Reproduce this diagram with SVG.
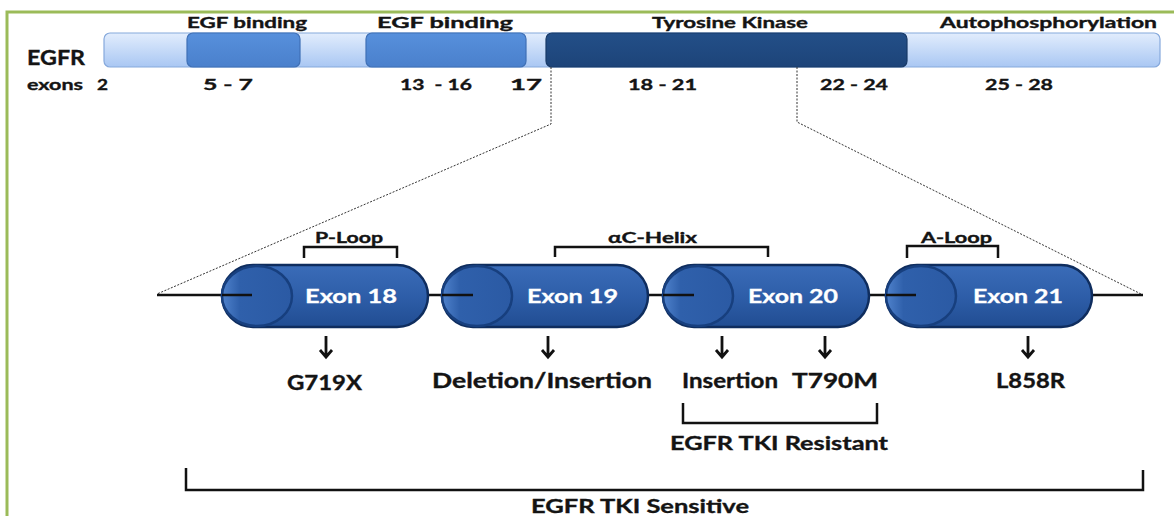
<svg xmlns="http://www.w3.org/2000/svg" width="1174" height="516" viewBox="0 0 1174 516">
  <defs>
    <linearGradient id="barFill" x1="0" y1="0" x2="0" y2="1">
      <stop offset="0" stop-color="#e2edfd"/>
      <stop offset="1" stop-color="#a9c7f3"/>
    </linearGradient>
    <linearGradient id="egfFill" x1="0" y1="0" x2="0" y2="1">
      <stop offset="0" stop-color="#5790dc"/>
      <stop offset="1" stop-color="#4a80cc"/>
    </linearGradient>
    <linearGradient id="tkFill" x1="0" y1="0" x2="0" y2="1">
      <stop offset="0" stop-color="#234f88"/>
      <stop offset="1" stop-color="#1d4479"/>
    </linearGradient>
    <linearGradient id="exonFill" x1="0" y1="0" x2="0" y2="1">
      <stop offset="0" stop-color="#3a6cb8"/>
      <stop offset="0.5" stop-color="#2e5ea9"/>
      <stop offset="1" stop-color="#214d92"/>
    </linearGradient>
    <linearGradient id="capFill" x1="0" y1="0" x2="1" y2="0">
      <stop offset="0" stop-color="#4f82cc"/>
      <stop offset="0.25" stop-color="#2f60ab"/>
      <stop offset="1" stop-color="#2b5aa4"/>
    </linearGradient>
  </defs>
  <style>
    .t { font-family: Lato, "Liberation Sans", sans-serif; font-weight: 700; fill: #141414; stroke: #141414; stroke-width: 0.35; }
    .w { font-family: Lato, "Liberation Sans", sans-serif; font-weight: 700; fill: #ffffff; stroke: #ffffff; stroke-width: 0.3; }
    .ln { stroke: #111; stroke-width: 2.5; fill: none; }
    .ar { stroke: #111; stroke-width: 2.8; fill: none; stroke-linejoin: miter; }
    .br { stroke: #111; stroke-width: 2.5; fill: none; stroke-linejoin: miter; }
    .dot { stroke: #333; stroke-width: 1; stroke-dasharray: 2 1.5; fill: none; }
    .pill { fill: url(#exonFill); stroke: #0f2d5e; stroke-width: 2.5; }
    .cap { fill: url(#capFill); stroke: #173f7e; stroke-width: 2.5; }
  </style>

  <rect width="1174" height="516" fill="#ffffff"/>
  <!-- frame -->
  <path d="M7 516 V12 H1174" fill="none" stroke="#9bbb59" stroke-width="3"/>

  <!-- EGFR protein bar -->
  <g id="egfr-bar">
    <rect x="104" y="33" width="1056" height="34" rx="6" fill="url(#barFill)" stroke="#86a9dc" stroke-width="1.2"/>
    <rect x="187" y="33" width="113" height="34" rx="6" fill="url(#egfFill)" stroke="#3f70b6" stroke-width="1.2"/>
    <rect x="366" y="33" width="160" height="34" rx="6" fill="url(#egfFill)" stroke="#3f70b6" stroke-width="1.2"/>
    <rect x="546" y="33" width="361" height="34" rx="6" fill="url(#tkFill)" stroke="#183a68" stroke-width="1.2"/>
    <text class="t" x="187" y="28" font-size="15" textLength="120" lengthAdjust="spacingAndGlyphs">EGF binding</text>
    <text class="t" x="377" y="28" font-size="15" textLength="136" lengthAdjust="spacingAndGlyphs">EGF binding</text>
    <text class="t" x="652" y="28" font-size="15" textLength="156" lengthAdjust="spacingAndGlyphs">Tyrosine Kinase</text>
    <text class="t" x="940" y="28" font-size="15" textLength="217" lengthAdjust="spacingAndGlyphs">Autophosphorylation</text>
    <text class="t" x="27" y="65" font-size="21" textLength="58" lengthAdjust="spacingAndGlyphs">EGFR</text>
    <text class="t" x="27" y="90" font-size="15" textLength="56" lengthAdjust="spacingAndGlyphs">exons</text>
    <text class="t" x="97" y="90" font-size="15" textLength="11" lengthAdjust="spacingAndGlyphs">2</text>
    <text class="t" x="203" y="90" font-size="15" textLength="50" lengthAdjust="spacingAndGlyphs">5 - 7</text>
    <text class="t" x="400" y="90" font-size="15" textLength="72" lengthAdjust="spacingAndGlyphs" xml:space="preserve">13  - 16</text>
    <text class="t" x="510" y="90" font-size="15" textLength="32" lengthAdjust="spacingAndGlyphs">17</text>
    <text class="t" x="628" y="90" font-size="15" textLength="69" lengthAdjust="spacingAndGlyphs">18 - 21</text>
    <text class="t" x="820" y="90" font-size="15" textLength="68" lengthAdjust="spacingAndGlyphs">22 - 24</text>
    <text class="t" x="985" y="90" font-size="15" textLength="68" lengthAdjust="spacingAndGlyphs">25 - 28</text>
  </g>

  <!-- zoom guides from the kinase region -->
  <g id="connectors">
    <path class="dot" d="M551 67 V124 L157 294"/>
    <path class="dot" d="M797 67 V122 L1143 295"/>
    <!-- backbone between exons -->
    <path class="ln" d="M157 295 H252"/>
    <path class="ln" d="M428 295 H473"/>
    <path class="ln" d="M648 295 H694"/>
    <path class="ln" d="M869 295 H916"/>
    <path class="ln" d="M1092 295 H1143"/>
    <!-- mutation arrows -->
    <path class="ar" d="M326 336 V357 M320 350 L326 357 L332 350"/>
    <path class="ar" d="M548 336 V357 M542 350 L548 357 L554 350"/>
    <path class="ar" d="M722 336 V357 M716 350 L722 357 L728 350"/>
    <path class="ar" d="M825 336 V357 M819 350 L825 357 L831 350"/>
    <path class="ar" d="M1028 336 V357 M1022 350 L1028 357 L1034 350"/>
  </g>

  <g id="exon18">
    <rect class="pill" x="222" y="265" width="206" height="62" rx="31"/>
    <ellipse class="cap" cx="257" cy="296" rx="35" ry="30"/>
    <text class="w" x="305" y="303" font-size="19" textLength="92" lengthAdjust="spacingAndGlyphs">Exon 18</text>
  </g>
  <g id="exon19">
    <rect class="pill" x="442" y="265" width="206" height="62" rx="31"/>
    <ellipse class="cap" cx="477" cy="296" rx="35" ry="30"/>
    <text class="w" x="527" y="303" font-size="19" textLength="91" lengthAdjust="spacingAndGlyphs">Exon 19</text>
  </g>
  <g id="exon20">
    <rect class="pill" x="663" y="265" width="206" height="62" rx="31"/>
    <ellipse class="cap" cx="698" cy="296" rx="35" ry="30"/>
    <text class="w" x="748" y="303" font-size="19" textLength="90" lengthAdjust="spacingAndGlyphs">Exon 20</text>
  </g>
  <g id="exon21">
    <rect class="pill" x="886" y="265" width="206" height="62" rx="31"/>
    <ellipse class="cap" cx="921" cy="296" rx="35" ry="30"/>
    <text class="w" x="973" y="303" font-size="19" textLength="90" lengthAdjust="spacingAndGlyphs">Exon 21</text>
  </g>

  <!-- backbone stubs drawn over the exon caps -->
  <g id="backbone-top">
    <path class="ln" d="M222 295 H252"/>
    <path class="ln" d="M442 295 H473"/>
    <path class="ln" d="M663 295 H694"/>
    <path class="ln" d="M886 295 H916"/>
  </g>

  <g id="regions">
    <path class="br" d="M304 258 V247 H397 V258"/>
    <text class="t" x="315" y="243" font-size="15" textLength="68" lengthAdjust="spacingAndGlyphs">P-Loop</text>
    <path class="br" d="M555 257 V247 H768 V257"/>
    <text class="t" x="608" y="243" font-size="15" textLength="89" lengthAdjust="spacingAndGlyphs">αC-Helix</text>
    <path class="br" d="M907 258 V246 H998 V258"/>
    <text class="t" x="921" y="243" font-size="15" textLength="71" lengthAdjust="spacingAndGlyphs">A-Loop</text>
  </g>

  <g id="mutations">
    <text class="t" x="287" y="390" font-size="20" textLength="75" lengthAdjust="spacingAndGlyphs">G719X</text>
    <text class="t" x="432" y="388" font-size="20" textLength="220" lengthAdjust="spacingAndGlyphs">Deletion/Insertion</text>
    <text class="t" x="682" y="388" font-size="20" textLength="96" lengthAdjust="spacingAndGlyphs">Insertion</text>
    <text class="t" x="792" y="388" font-size="20" textLength="86" lengthAdjust="spacingAndGlyphs">T790M</text>
    <text class="t" x="996" y="388" font-size="20" textLength="69" lengthAdjust="spacingAndGlyphs">L858R</text>
  </g>

  <g id="resistant">
    <path class="br" d="M683 403 V423 H877 V403"/>
    <text class="t" x="670" y="450" font-size="19" textLength="218" lengthAdjust="spacingAndGlyphs">EGFR TKI Resistant</text>
  </g>

  <g id="sensitive">
    <path class="br" d="M186 468 V490 H1143 V470"/>
    <text class="t" x="531" y="513" font-size="19" textLength="218" lengthAdjust="spacingAndGlyphs">EGFR TKI Sensitive</text>
  </g>
</svg>
